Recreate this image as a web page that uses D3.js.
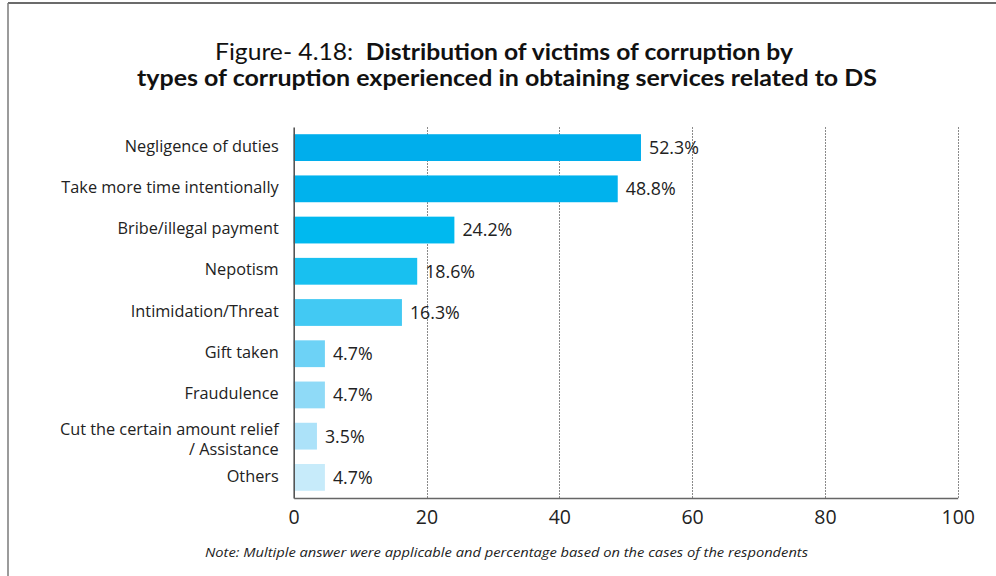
<!DOCTYPE html>
<html>
<head>
<meta charset="utf-8">
<script src="https://cdn.jsdelivr.net/npm/d3@7"></script>
<style>
  html, body { margin: 0; padding: 0; background: #ffffff; }
  svg { display: block; }
  .pre { white-space: pre; }
</style>
</head>
<body>
<script>
// Types of corruption experienced (DS services), % of victims
const categories = [
  "Negligence of duties",
  "Take more time intentionally",
  "Bribe/illegal payment",
  "Nepotism",
  "Intimidation/Threat",
  "Gift taken",
  "Fraudulence",
  "Cut the certain amount relief\n/ Assistance",
  "Others"
];
const values = [52.3, 48.8, 24.2, 18.6, 16.3, 4.7, 4.7, 3.5, 4.7];
const barColors = [
  "#00aeec", "#00b2ed", "#00b9ef", "#18c0f0", "#42c9f3",
  "#6dd2f6", "#8fdaf7", "#ace2f9", "#c7ebfa"
];
const xTicks = [0, 20, 40, 60, 80, 100];
const titlePrefix = "Figure- 4.18:  ";
const titleLine1 = "Distribution of victims of corruption by";
const titleLine2 = "types of corruption experienced in obtaining services related to DS";
const note = "Note: Multiple answer were applicable and percentage based on the cases of the respondents";

const W = 996, H = 576;
const svg = d3.select("body").append("svg").attr("width", W).attr("height", H);

// Frame: top and left rules
svg.append("line").attr("x1", 8).attr("x2", W).attr("y1", 3).attr("y2", 3)
  .attr("stroke", "#3a3a3a").attr("stroke-width", 1.5);
svg.append("line").attr("x1", 8).attr("x2", 8).attr("y1", 3).attr("y2", H)
  .attr("stroke", "#7a7a7a").attr("stroke-width", 1.5);

// Title (regular prefix, bold remainder)
const t1 = svg.append("text")
  .attr("class", "pre")
  .attr("x", 504).attr("y", 60).attr("text-anchor", "middle")
  .attr("font-family", "Lato, 'Open Sans', sans-serif").attr("font-size", 22.5)
  .attr("fill", "#111").attr("textLength", 578).attr("lengthAdjust", "spacingAndGlyphs");
t1.append("tspan").attr("class", "pre").attr("font-weight", 400).text(titlePrefix);
t1.append("tspan").attr("font-weight", 700).text(titleLine1);
svg.append("text")
  .attr("x", 507).attr("y", 86).attr("text-anchor", "middle")
  .attr("font-family", "Lato, 'Open Sans', sans-serif").attr("font-size", 22.5)
  .attr("font-weight", 700).attr("fill", "#111")
  .attr("textLength", 740).attr("lengthAdjust", "spacingAndGlyphs")
  .text(titleLine2);

// Scales
const x = d3.scaleLinear().domain([0, 100]).range([293.7, 957.7]);
const y = d3.scaleBand().domain(categories).range([127, 498]).paddingInner(0.35).paddingOuter(0.175);

const plot = svg.append("g");

// Dashed vertical gridlines
plot.selectAll("line.grid").data(xTicks.filter(d => d > 0)).join("line")
  .attr("class", "grid")
  .attr("x1", d => Math.round(x(d)) + 0.5).attr("x2", d => Math.round(x(d)) + 0.5)
  .attr("y1", 127).attr("y2", 498)
  .attr("stroke", "#8a8a8a").attr("stroke-width", 1).attr("stroke-dasharray", "2,1");

// Bars
plot.selectAll("rect.bar").data(values).join("rect")
  .attr("class", "bar")
  .attr("x", x(0))
  .attr("y", (d, i) => y(categories[i]))
  .attr("width", d => x(d) - x(0))
  .attr("height", y.bandwidth())
  .attr("fill", (d, i) => barColors[i]);

// Value labels
plot.selectAll("text.val").data(values).join("text")
  .attr("class", "val")
  .attr("x", d => x(d) + 8)
  .attr("y", (d, i) => y(categories[i]) + y.bandwidth() / 2)
  .attr("dy", "0.36em")
  .attr("font-family", "'Open Sans', sans-serif").attr("font-size", 17.8)
  .attr("fill", "#222")
  .text(d => d.toFixed(1) + "%");

// Category axis with wrapped labels
const labelSize = 16.3, lineH = 20;
const yAxis = plot.append("g").attr("transform", `translate(${x(0)},0)`)
  .call(d3.axisLeft(y).tickSize(0).tickPadding(15));
yAxis.select(".domain").attr("stroke", "#555").attr("stroke-width", 1.6);
yAxis.selectAll(".tick text").each(function (d) {
  const el = d3.select(this);
  const lines = d.split("\n");
  const shift = lines.length > 1 ? 4 : -1;
  el.text(null).attr("dy", null)
    .attr("font-family", "'Open Sans', sans-serif").attr("font-size", labelSize)
    .attr("fill", "#222");
  lines.forEach((ln, k) => {
    el.append("tspan").attr("x", -15)
      .attr("dy", k === 0 ? 0.32 * labelSize + shift - (lines.length - 1) * lineH / 2 : lineH)
      .text(ln);
  });
});

// Value axis
const xAxis = plot.append("g").attr("transform", "translate(0,498)")
  .call(d3.axisBottom(x).tickValues(xTicks).tickSize(0).tickPadding(12).tickFormat(d3.format("d")));
xAxis.select(".domain").attr("stroke", "#666").attr("stroke-width", 1.6);
xAxis.selectAll(".tick text")
  .attr("font-family", "'Open Sans', sans-serif").attr("font-size", 19.5).attr("fill", "#222");

// Footnote
svg.append("text")
  .attr("x", 506.5).attr("y", 557).attr("text-anchor", "middle")
  .attr("font-family", "'Open Sans', sans-serif").attr("font-style", "italic").attr("font-size", 13)
  .attr("fill", "#222").attr("textLength", 603).attr("lengthAdjust", "spacingAndGlyphs")
  .text(note);
</script>
</body>
</html>
